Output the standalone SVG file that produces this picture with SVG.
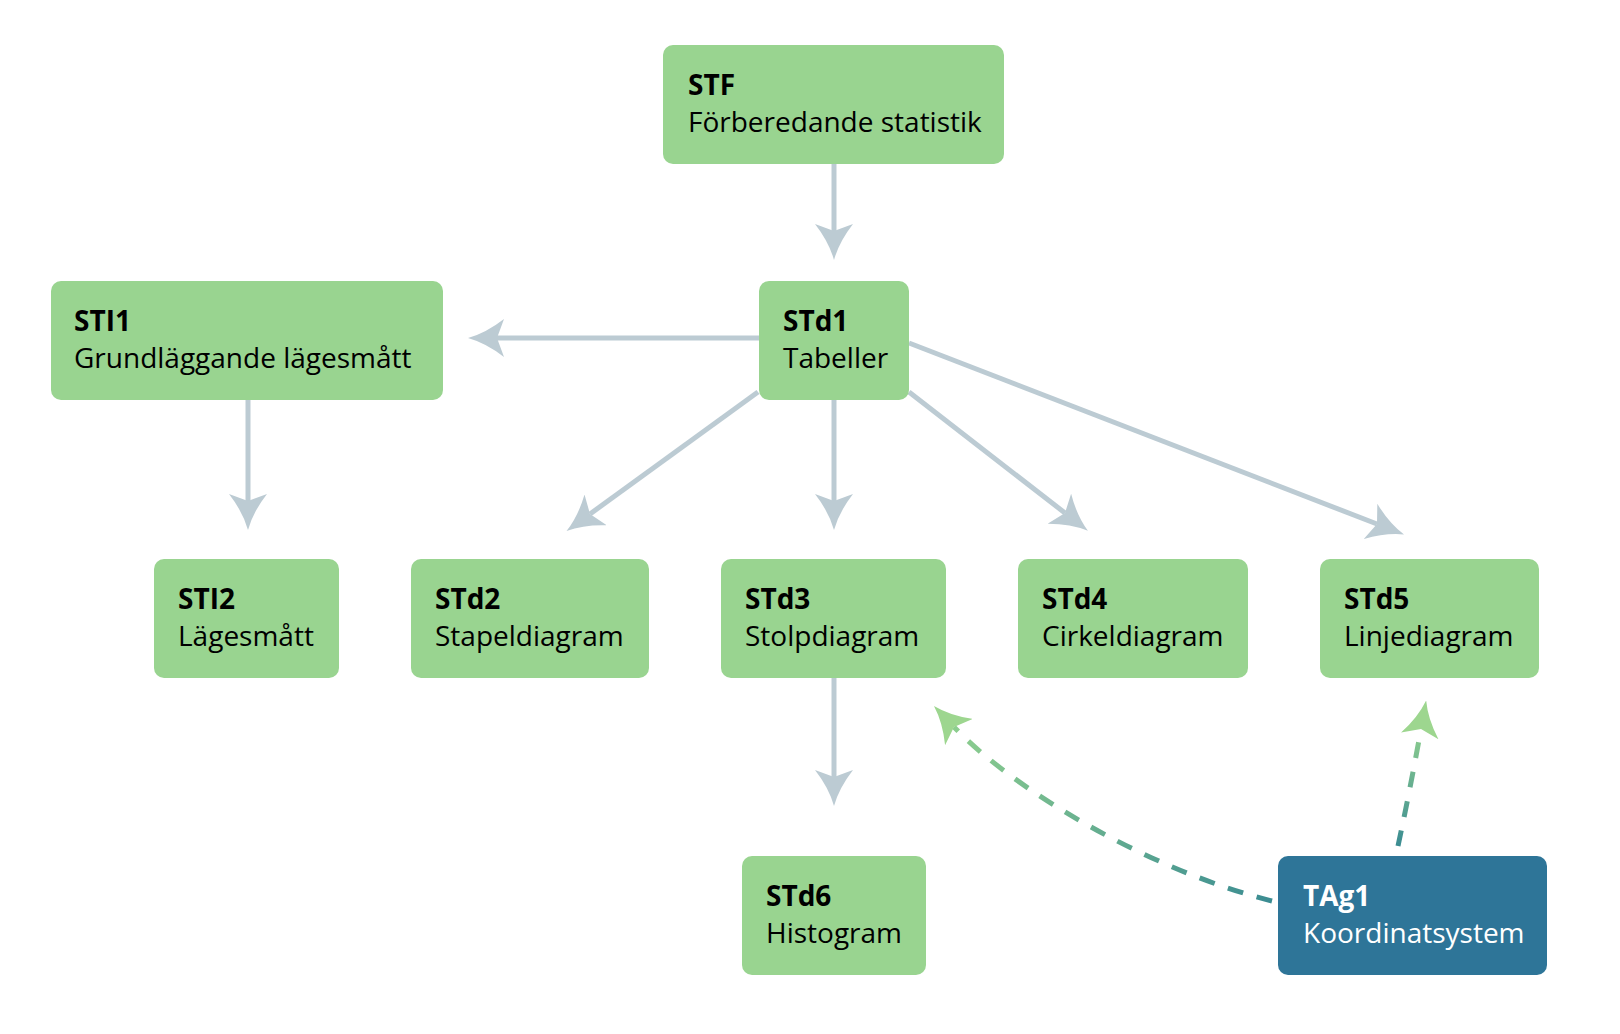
<svg xmlns="http://www.w3.org/2000/svg" width="1620" height="1034" viewBox="0 0 1620 1034">
<style>
.box{fill:#99d490}
.boxb{fill:#2e7598}
.t{font-family:"Open Sans","Noto Sans","DejaVu Sans",sans-serif;font-size:28px;fill:#000}
.b{font-weight:700}
.w{fill:#fff}
.edge{fill:none;stroke:#bccbd3;stroke-width:5;marker-end:url(#ag)}
.dash{fill:none;stroke-width:5;stroke-dasharray:16 14;marker-end:url(#agr)}
</style>
<defs>
<marker id="ag" viewBox="0 0 36 38" refX="7" refY="19" markerWidth="36" markerHeight="38" markerUnits="userSpaceOnUse" orient="auto">
<path d="M36,19 Q18,14 0,0 L7,19 L0,38 Q18,24 36,19 Z" fill="#bccbd3"/>
</marker>
<marker id="agr" viewBox="0 0 36 38" refX="7" refY="19" markerWidth="36" markerHeight="38" markerUnits="userSpaceOnUse" orient="auto">
<path d="M36,19 Q18,14 0,0 L7,19 L0,38 Q18,24 36,19 Z" fill="#9dd68f"/>
</marker>
<linearGradient id="g1" gradientUnits="userSpaceOnUse" x1="1272" y1="901" x2="954" y2="727">
<stop offset="0" stop-color="#3b8c92"/>
<stop offset="1" stop-color="#8dce8e"/>
</linearGradient>
<linearGradient id="g2" gradientUnits="userSpaceOnUse" x1="1398" y1="846" x2="1421" y2="729">
<stop offset="0" stop-color="#3b8c92"/>
<stop offset="1" stop-color="#8dce8e"/>
</linearGradient>
</defs>
<g id="connectors">
<path class="edge" d="M834,164 V231"/>
<path class="edge" d="M759,338 H497"/>
<path class="edge" d="M248,400 V501"/>
<path class="edge" d="M758,392 L590,514"/>
<path class="edge" d="M834,400 V501"/>
<path class="edge" d="M909,392 L1065,513"/>
<path class="edge" d="M909,343 L1377,524"/>
<path class="edge" d="M834,678 V777"/>
<path class="dash" stroke="url(#g1)" d="M1272,901 C1152,871 1016,792 954,727"/>
<path class="dash" stroke="url(#g2)" d="M1398,846 Q1410,790 1421,729"/>
</g>
<g id="STF">
<rect class="box" x="663" y="45" width="341" height="119" rx="10"/>
<text class="t b" x="688" y="95">STF</text>
<text class="t" x="688" y="132">Förberedande statistik</text>
</g>
<g id="STd1">
<rect class="box" x="759" y="281" width="150" height="119" rx="10"/>
<text class="t b" x="783" y="331">STd1</text>
<text class="t" x="783" y="368">Tabeller</text>
</g>
<g id="STI1">
<rect class="box" x="51" y="281" width="392" height="119" rx="10"/>
<text class="t b" x="74" y="331">STI1</text>
<text class="t" x="74" y="368">Grundläggande lägesmått</text>
</g>
<g id="STI2">
<rect class="box" x="154" y="559" width="185" height="119" rx="10"/>
<text class="t b" x="178" y="609">STI2</text>
<text class="t" x="178" y="646">Lägesmått</text>
</g>
<g id="STd2">
<rect class="box" x="411" y="559" width="238" height="119" rx="10"/>
<text class="t b" x="435" y="609">STd2</text>
<text class="t" x="435" y="646">Stapeldiagram</text>
</g>
<g id="STd3">
<rect class="box" x="721" y="559" width="225" height="119" rx="10"/>
<text class="t b" x="745" y="609">STd3</text>
<text class="t" x="745" y="646">Stolpdiagram</text>
</g>
<g id="STd4">
<rect class="box" x="1018" y="559" width="230" height="119" rx="10"/>
<text class="t b" x="1042" y="609">STd4</text>
<text class="t" x="1042" y="646">Cirkeldiagram</text>
</g>
<g id="STd5">
<rect class="box" x="1320" y="559" width="219" height="119" rx="10"/>
<text class="t b" x="1344" y="609">STd5</text>
<text class="t" x="1344" y="646">Linjediagram</text>
</g>
<g id="STd6">
<rect class="box" x="742" y="856" width="184" height="119" rx="10"/>
<text class="t b" x="766" y="906">STd6</text>
<text class="t" x="766" y="943">Histogram</text>
</g>
<g id="TAg1">
<rect class="boxb" x="1278" y="856" width="269" height="119" rx="10"/>
<text class="t b w" x="1303" y="906">TAg1</text>
<text class="t w" x="1303" y="943">Koordinatsystem</text>
</g>
</svg>
